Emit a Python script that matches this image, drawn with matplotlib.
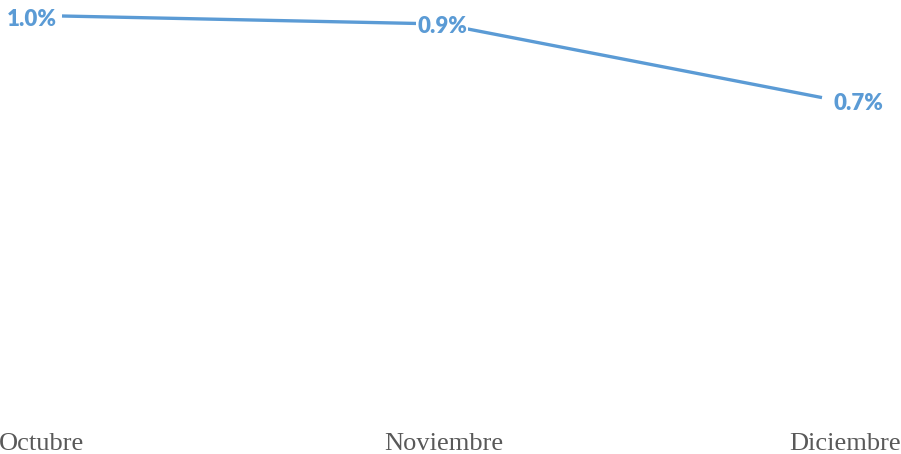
import matplotlib
matplotlib.use("Agg")
import matplotlib.pyplot as plt
import matplotlib.transforms as mtransforms

# data
months = ["Octubre", "Noviembre", "Diciembre"]
rate_pct = [0.955, 0.93, 0.70]

blue = "#5B9BD5"

fig = plt.figure(figsize=(9.01, 4.54), dpi=100)
ax = fig.add_axes([0, 29 / 454, 1, 425 / 454])

x = list(range(len(months)))
ax.plot(x, rate_pct, color=blue, lw=2.4, solid_capstyle="butt", zorder=2)

# axis ranges so the line sits where it does in the original
ax.set_xlim(-62 / 380, 2 + 79 / 380)
ax.set_ylim(0.955 - 409 / 320, 0.955 + 16 / 320)

# data labels
lab_kw = dict(color=blue, fontsize=16, fontweight="heavy", family="Lato")
ax.annotate(f"{rate_pct[0]:.1f}%", (x[0], rate_pct[0]), xytext=(-4, -2.5),
            textcoords="offset points", ha="right", va="center", **lab_kw)
ax.annotate(f"{rate_pct[1]:.1f}%", (x[1], rate_pct[1]), xytext=(0, -1.5),
            textcoords="offset points", ha="center", va="center", zorder=3,
            bbox=dict(boxstyle="square,pad=0.05", fc="white", ec="none"), **lab_kw)
ax.annotate(f"{rate_pct[2]:.1f}%", (x[2], rate_pct[2]), xytext=(8, -4),
            textcoords="offset points", ha="left", va="center", **lab_kw)

ax.set_xticks(x)
ax.set_xticklabels(months, family="Liberation Serif", fontsize=19, color="#595959")
ax.tick_params(axis="x", length=0, pad=6)
ax.set_yticks([])
for s in ax.spines.values():
    s.set_visible(False)

# shift category labels a bit like the original
shifts = [-21, 2, 23]
for lab, dx in zip(ax.get_xticklabels(), shifts):
    off = mtransforms.ScaledTranslation(dx / 100, 0, fig.dpi_scale_trans)
    lab.set_transform(lab.get_transform() + off)

fig.savefig("out.png", dpi=100)
